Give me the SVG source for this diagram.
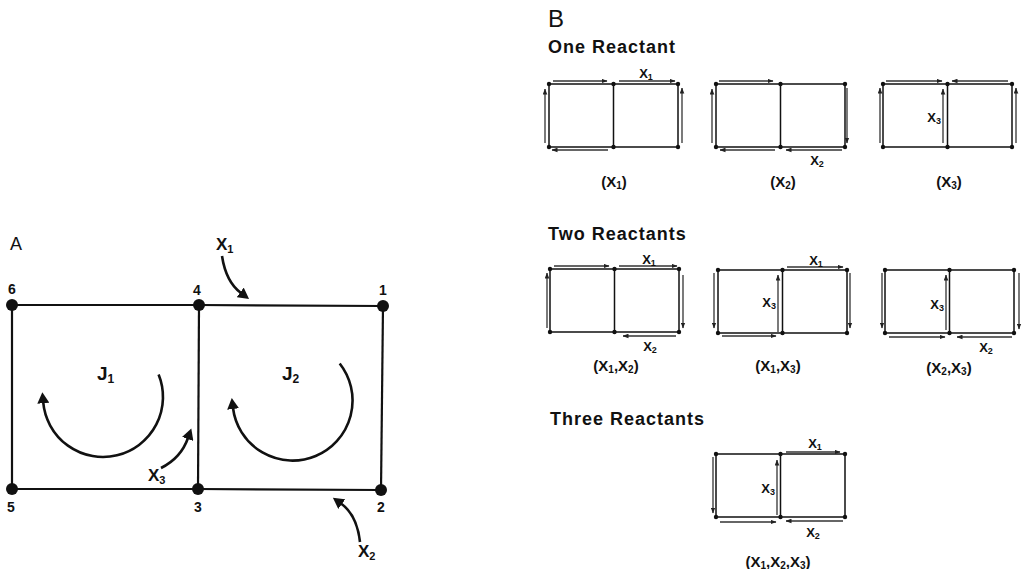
<svg xmlns="http://www.w3.org/2000/svg" width="1029" height="569" viewBox="0 0 1029 569">
<style>
.t{font-family:"Liberation Sans",Arial,Helvetica,sans-serif;font-weight:bold;fill:#111}
.h{font-size:18px;letter-spacing:1px}
.e{stroke:#111;stroke-width:2.2;fill:none}
.c{stroke:#111;stroke-width:2.6;fill:none}
.f{stroke:#111;stroke-width:1.5;fill:none}
.a{stroke:#333;stroke-width:1.3;fill:none}
.n{fill:#111}
.num{font-size:14px;text-anchor:middle}
.big{font-size:17px}
.j{font-size:19px}
.s{font-size:13px}
.cap{font-size:15px;text-anchor:middle}
</style>
<defs>
<marker id="ba" markerUnits="userSpaceOnUse" markerWidth="12" markerHeight="12" refX="1" refY="6" orient="auto"><path d="M0,0L11,6L0,12z" fill="#111"/></marker>
<marker id="sa" markerUnits="userSpaceOnUse" markerWidth="6" markerHeight="5" refX="5.5" refY="2.5" orient="auto"><path d="M0,0.2L6,2.5L0,4.8z" fill="#222"/></marker>
<g id="frame">
<path class="f" d="M0,0H129V63H0Z M64.5,0V63"/>
<circle class="n" cx="0" cy="0" r="2.2"/><circle class="n" cx="64.5" cy="0" r="2.2"/><circle class="n" cx="129" cy="0" r="2.2"/>
<circle class="n" cx="0" cy="63" r="2.2"/><circle class="n" cx="64.5" cy="63" r="2.2"/><circle class="n" cx="129" cy="63" r="2.2"/>
</g>
</defs>

<!-- Panel A -->
<text class="t" x="10" y="250" style="font-size:18px;font-weight:normal">A</text>

<g id="connectors">
<line class="e" x1="12" y1="305" x2="199" y2="305"/>
<line class="e" x1="199" y1="305" x2="383" y2="306"/>
<line class="e" x1="383" y1="306" x2="381" y2="490"/>
<line class="e" x1="381" y1="490" x2="198" y2="489"/>
<line class="e" x1="198" y1="489" x2="12" y2="489"/>
<line class="e" x1="12" y1="489" x2="12" y2="305"/>
<line class="e" x1="199" y1="305" x2="198" y2="489"/>
<path class="c" d="M158.6,374.5 A60,60 0 1 1 43.2,402.2" marker-end="url(#ba)"/>
<path class="c" d="M339.7,363.5 A60,60 0 1 1 233,408" marker-end="url(#ba)"/>
<path class="c" d="M222,256 Q226,282 241,293" marker-end="url(#ba)"/>
<path class="c" d="M360,542 Q357,515 341,503.5" marker-end="url(#ba)"/>
<path class="c" d="M161,468 Q181,458 188,438" marker-end="url(#ba)"/>
</g>

<g id="node1"><circle class="n" cx="383" cy="306" r="6"/><text class="t num" x="383" y="295">1</text></g>
<g id="node2"><circle class="n" cx="381" cy="490" r="6"/><text class="t num" x="381" y="512">2</text></g>
<g id="node3"><circle class="n" cx="198" cy="489" r="6"/><text class="t num" x="198" y="512">3</text></g>
<g id="node4"><circle class="n" cx="199" cy="305" r="6"/><text class="t num" x="197" y="295">4</text></g>
<g id="node5"><circle class="n" cx="12" cy="489" r="6"/><text class="t num" x="11" y="512">5</text></g>
<g id="node6"><circle class="n" cx="12" cy="305" r="6"/><text class="t num" x="12" y="294">6</text></g>

<g id="labelsA">
<text class="t j" x="97" y="380">J<tspan font-size="12" dy="3">1</tspan></text>
<text class="t j" x="282" y="380">J<tspan font-size="12" dy="3">2</tspan></text>
<text class="t big" x="216" y="250">X<tspan font-size="11" dy="3">1</tspan></text>
<text class="t big" x="148" y="481">X<tspan font-size="11" dy="3">3</tspan></text>
<text class="t big" x="358" y="557">X<tspan font-size="11" dy="3">2</tspan></text>
</g>

<!-- Panel B -->
<text class="t" x="548" y="27" style="font-size:24px;font-weight:normal">B</text>
<text class="t h" x="548" y="53">One Reactant</text>
<text class="t h" x="548" y="240">Two Reactants</text>
<text class="t h" x="550" y="425">Three Reactants</text>

<g id="bX1" transform="translate(549,84)">
<use href="#frame"/>
<line class="a" x1="4" y1="-3" x2="58" y2="-3" marker-end="url(#sa)"/>
<line class="a" x1="70" y1="-3" x2="126" y2="-3" marker-end="url(#sa)"/>
<line class="a" x1="133" y1="59" x2="133" y2="4" marker-end="url(#sa)"/>
<line class="a" x1="-4" y1="59" x2="-4" y2="5" marker-end="url(#sa)"/>
<line class="a" x1="59" y1="66" x2="3" y2="66" marker-end="url(#sa)"/>
<text class="t s" x="97" y="-6" text-anchor="middle">X<tspan font-size="9" dy="2">1</tspan></text>
</g>
<text class="t cap" x="614" y="187">(X<tspan font-size="10" dy="2">1</tspan><tspan dy="-2">)</tspan></text>

<g id="bX2" transform="translate(716,84)">
<use href="#frame"/>
<line class="a" x1="3" y1="-3" x2="57" y2="-3" marker-end="url(#sa)"/>
<line class="a" x1="-4" y1="59" x2="-4" y2="5" marker-end="url(#sa)"/>
<line class="a" x1="59" y1="66" x2="4" y2="66" marker-end="url(#sa)"/>
<line class="a" x1="126" y1="66" x2="70" y2="66" marker-end="url(#sa)"/>
<line class="a" x1="131" y1="4" x2="131" y2="59" marker-end="url(#sa)"/>
<text class="t s" x="101" y="81" text-anchor="middle">X<tspan font-size="9" dy="2">2</tspan></text>
</g>
<text class="t cap" x="783" y="187">(X<tspan font-size="10" dy="2">2</tspan><tspan dy="-2">)</tspan></text>

<g id="bX3" transform="translate(883,84)">
<use href="#frame"/>
<line class="a" x1="3" y1="-3" x2="59" y2="-3" marker-end="url(#sa)"/>
<line class="a" x1="125" y1="-3" x2="69" y2="-3" marker-end="url(#sa)"/>
<line class="a" x1="-3" y1="59" x2="-3" y2="4" marker-end="url(#sa)"/>
<line class="a" x1="60" y1="59" x2="60" y2="5" marker-end="url(#sa)"/>
<line class="a" x1="133" y1="59" x2="133" y2="4" marker-end="url(#sa)"/>
<text class="t s" x="58" y="38" text-anchor="end">X<tspan font-size="9" dy="2">3</tspan></text>
</g>
<text class="t cap" x="949" y="187">(X<tspan font-size="10" dy="2">3</tspan><tspan dy="-2">)</tspan></text>

<g id="bX1X2" transform="translate(550,269)">
<use href="#frame"/>
<line class="a" x1="4" y1="-3" x2="59" y2="-3" marker-end="url(#sa)"/>
<line class="a" x1="69" y1="-3" x2="127" y2="-3" marker-end="url(#sa)"/>
<line class="a" x1="-3" y1="59" x2="-3" y2="4" marker-end="url(#sa)"/>
<line class="a" x1="133" y1="6" x2="133" y2="59" marker-end="url(#sa)"/>
<line class="a" x1="126" y1="67" x2="73" y2="67" marker-end="url(#sa)"/>
<text class="t s" x="99" y="-5" text-anchor="middle">X<tspan font-size="9" dy="2">1</tspan></text>
<text class="t s" x="100" y="82" text-anchor="middle">X<tspan font-size="9" dy="2">2</tspan></text>
</g>
<text class="t cap" x="616" y="371">(X<tspan font-size="10" dy="2">1</tspan><tspan dy="-2">,X</tspan><tspan font-size="10" dy="2">2</tspan><tspan dy="-2">)</tspan></text>

<g id="bX1X3" transform="translate(718,270)">
<use href="#frame"/>
<line class="a" x1="-4" y1="3" x2="-4" y2="58" marker-end="url(#sa)"/>
<line class="a" x1="4" y1="66" x2="58" y2="66" marker-end="url(#sa)"/>
<line class="a" x1="60" y1="62" x2="60" y2="5" marker-end="url(#sa)"/>
<line class="a" x1="69" y1="-3" x2="125" y2="-3" marker-end="url(#sa)"/>
<line class="a" x1="132" y1="3" x2="132" y2="58" marker-end="url(#sa)"/>
<text class="t s" x="98" y="-5" text-anchor="middle">X<tspan font-size="9" dy="2">1</tspan></text>
<text class="t s" x="58" y="37" text-anchor="end">X<tspan font-size="9" dy="2">3</tspan></text>
</g>
<text class="t cap" x="778" y="371">(X<tspan font-size="10" dy="2">1</tspan><tspan dy="-2">,X</tspan><tspan font-size="10" dy="2">3</tspan><tspan dy="-2">)</tspan></text>

<g id="bX2X3" transform="translate(885,270)">
<use href="#frame"/>
<line class="a" x1="-3" y1="3" x2="-3" y2="58" marker-end="url(#sa)"/>
<line class="a" x1="4" y1="67" x2="60" y2="67" marker-end="url(#sa)"/>
<line class="a" x1="61" y1="60" x2="61" y2="5" marker-end="url(#sa)"/>
<line class="a" x1="127" y1="67" x2="72" y2="67" marker-end="url(#sa)"/>
<line class="a" x1="134" y1="3" x2="134" y2="59" marker-end="url(#sa)"/>
<text class="t s" x="59" y="39" text-anchor="end">X<tspan font-size="9" dy="2">3</tspan></text>
<text class="t s" x="101" y="82" text-anchor="middle">X<tspan font-size="9" dy="2">2</tspan></text>
</g>
<text class="t cap" x="949" y="373">(X<tspan font-size="10" dy="2">2</tspan><tspan dy="-2">,X</tspan><tspan font-size="10" dy="2">3</tspan><tspan dy="-2">)</tspan></text>

<g id="bX1X2X3" transform="translate(716,454)">
<use href="#frame"/>
<line class="a" x1="-3" y1="3" x2="-3" y2="59" marker-end="url(#sa)"/>
<line class="a" x1="4" y1="68" x2="60" y2="68" marker-end="url(#sa)"/>
<line class="a" x1="61" y1="61" x2="61" y2="6" marker-end="url(#sa)"/>
<line class="a" x1="70" y1="-2" x2="124" y2="-2" marker-end="url(#sa)"/>
<line class="a" x1="127" y1="67" x2="70" y2="67" marker-end="url(#sa)"/>
<text class="t s" x="99" y="-6" text-anchor="middle">X<tspan font-size="9" dy="2">1</tspan></text>
<text class="t s" x="59" y="39" text-anchor="end">X<tspan font-size="9" dy="2">3</tspan></text>
<text class="t s" x="97" y="83" text-anchor="middle">X<tspan font-size="9" dy="2">2</tspan></text>
</g>
<text class="t cap" x="778" y="567">(X<tspan font-size="10" dy="2">1</tspan><tspan dy="-2">,X</tspan><tspan font-size="10" dy="2">2</tspan><tspan dy="-2">,X</tspan><tspan font-size="10" dy="2">3</tspan><tspan dy="-2">)</tspan></text>
</svg>
